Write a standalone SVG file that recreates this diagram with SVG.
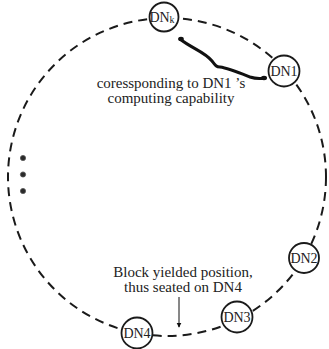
<svg xmlns="http://www.w3.org/2000/svg" width="329" height="349" viewBox="0 0 329 349">
  <style>
    .ring { fill: none; stroke: #1a1a1a; stroke-width: 2; stroke-dasharray: 9 6; }
    .node circle { fill: #ffffff; stroke: #1a1a1a; stroke-width: 1.8; }
    .node text { font-size: 14px; fill: #222; text-anchor: middle; }
    .label { font-size: 15px; fill: #222; text-anchor: middle; }
    .brace { fill: none; stroke: #111; stroke-width: 3; stroke-linecap: round; stroke-linejoin: round; }
    .dot { fill: #2a2a2a; stroke: #555; stroke-width: 0.8; }
  </style>
  <defs>
    <marker id="arrowhead" viewBox="0 0 8 10" refX="7" refY="5" markerWidth="5" markerHeight="7" orient="auto" markerUnits="userSpaceOnUse">
      <path d="M0,1 L8,5 L0,9 Z" fill="#111"/>
    </marker>
  </defs>

  <rect width="329" height="349" fill="#ffffff"/>

  <!-- hash ring -->
  <circle class="ring" cx="167" cy="177" r="159"/>

  <!-- ellipsis for the omitted nodes -->
  <g id="ellipsis">
    <circle class="dot" cx="23" cy="158" r="2.6"/>
    <circle class="dot" cx="23" cy="174.5" r="2.6"/>
    <circle class="dot" cx="23" cy="191" r="2.6"/>
  </g>

  <!-- connectors -->
  <g id="connectors">
    <path class="brace" d="M180,39 C191,48 205,52 212,61 C215,65 216,67 220,67 C228,68 240,73 250,77 C256,79 260,79 265,78"/>
    <ellipse cx="181" cy="39" rx="2.8" ry="2.2" fill="#111"/>
    <ellipse cx="264" cy="78" rx="3" ry="2.2" fill="#111"/>
    <line x1="179" y1="297" x2="179" y2="327" stroke="#111" stroke-width="1" marker-end="url(#arrowhead)"/>
  </g>

  <!-- nodes -->
  <g id="node-dnk" class="node" font-family="'Liberation Serif', 'DejaVu Serif', serif">
    <circle cx="164" cy="17" r="14.5"/>
    <text x="162" y="22">DN<tspan font-size="10" dy="1">k</tspan></text>
  </g>
  <g id="node-dn1" class="node" font-family="'Liberation Serif', 'DejaVu Serif', serif">
    <circle cx="284" cy="71" r="15.5"/>
    <text x="284" y="76">DN1</text>
  </g>
  <g id="node-dn2" class="node" font-family="'Liberation Serif', 'DejaVu Serif', serif">
    <circle cx="304" cy="258" r="15"/>
    <text x="304" y="263">DN2</text>
  </g>
  <g id="node-dn3" class="node" font-family="'Liberation Serif', 'DejaVu Serif', serif">
    <circle cx="237" cy="317" r="15.5"/>
    <text x="237" y="322">DN3</text>
  </g>
  <g id="node-dn4" class="node" font-family="'Liberation Serif', 'DejaVu Serif', serif">
    <circle cx="137" cy="333" r="15.5"/>
    <text x="137" y="338">DN4</text>
  </g>

  <!-- annotations -->
  <g id="annotations" font-family="'Liberation Serif', 'DejaVu Serif', serif">
    <text class="label" x="171" y="88">coressponding to DN1 ’s</text>
    <text class="label" x="171" y="103">computing capability</text>
    <text class="label" x="183" y="277">Block yielded position,</text>
    <text class="label" x="183" y="292">thus seated on DN4</text>
  </g>
</svg>
